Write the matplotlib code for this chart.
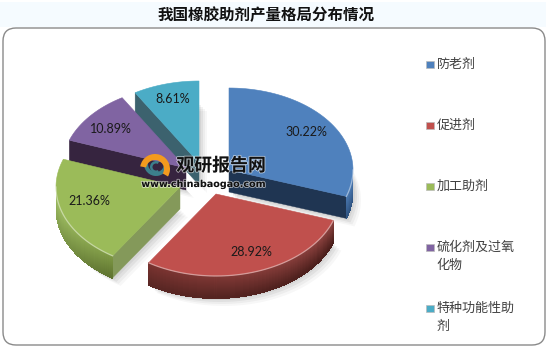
#!/usr/bin/env python3

import numpy as np
import matplotlib
matplotlib.use('Agg')
import matplotlib.pyplot as plt
from matplotlib.patches import FancyBboxPatch, Polygon, Rectangle, Wedge
from matplotlib.collections import PolyCollection
import matplotlib.colors as mcolors
import matplotlib.patheffects as pe

plt.rcParams['font.family'] = ['Noto Sans CJK SC', 'DejaVu Sans']

title = '我国橡胶助剂产量格局分布情况'
categories = ['防老剂', '促进剂', '加工助剂', '硫化剂及过氧\n化物', '特种功能性助\n剂']
shares = [30.22, 28.92, 21.36, 10.89, 8.61]
value_labels = ['30.22%', '28.92%', '21.36%', '10.89%', '8.61%']

top_colors = ['#4F81BD', '#C0504D', '#9BBB59', '#8064A2', '#4BACC6']
face_colors = ['#1F3552', '#4F211F', '#84995A', '#36243F', '#3C626E']
# wall colour at the start / end of the arc, top / bottom of the wall
wall_top = [('#4A78B0', '#4A78B0'), ('#8E4340', '#7A3330'), ('#7F9A45', '#A9C96C'), ('#5A4570', '#5A4570'), ('#357F92', '#357F92')]
wall_bot = [('#2F5482', '#2F5482'), ('#4A1E1B', '#5A2724'), ('#5F7430', '#90AD58'), ('#3A2545', '#3A2545'), ('#2A6070', '#2A6070')]

# pie geometry in pixels
centers = [(229, 170), (216, 194), (180, 187), (186, 168), (199, 163)]
rx, ry, depth = 124, 82, 22
label_pos = [(306, 132), (251, 252), (89, 201), (111, 129), (173, 99)]
legend_y = [64, 125, 186, 247, 308]
draw_order = [4, 3, 2, 0, 1]

angles = np.concatenate([[0], np.cumsum(shares)]) / sum(shares) * 360


def ell(c, a):
    r = np.radians(a)
    return c[0] + rx * np.sin(r), c[1] - ry * np.cos(r)


def mix(c1, c2, t):
    a, b = np.array(mcolors.to_rgb(c1)), np.array(mcolors.to_rgb(c2))
    return tuple(a + (b - a) * t)


def draw_slice(ax, i, z):
    c = centers[i]
    a0, a1 = angles[i], angles[i + 1]

    # soft shadow
    arc = np.linspace(a0, a1, 60)
    xs, ys = ell(c, arc)
    outline = np.column_stack([np.r_[c[0], xs], np.r_[c[1], ys]])
    for off, alpha in [(8, 0.03), (6, 0.04), (4, 0.05), (2, 0.05)]:
        ax.add_patch(Polygon(outline + [off, depth + off], closed=True, fc='black', ec='none', alpha=alpha, zorder=z))

    # radial faces facing the viewer
    for a, edge_ok in [(a0, 180 < a0 < 360), (a1, 0 < a1 < 180)]:
        if edge_ok:
            ex, ey = ell(c, a)
            ax.add_patch(Polygon([(c[0], c[1]), (ex, ey), (ex, ey + depth), (c[0], c[1] + depth)],
                                 closed=True, fc=face_colors[i], ec=face_colors[i], lw=0.3, zorder=z + 0.1))

    # outer wall, front part only
    w0, w1 = max(a0, 90), min(a1, 270)
    if w1 > w0:
        polys, cols = [], []
        steps = np.arange(w0, w1, 1.0)
        for a in steps:
            b = min(a + 1.5, w1)
            t = (a - w0) / max(w1 - w0, 1e-6)
            x0, y0 = ell(c, a)
            x1, y1 = ell(c, b)
            for k in range(depth):
                d0, d1 = k, k + 1.5
                polys.append([(x0, y0 + d0), (x1, y1 + d0), (x1, y1 + d1), (x0, y0 + d1)])
                cols.append(mix(mix(wall_top[i][0], wall_top[i][1], t), mix(wall_bot[i][0], wall_bot[i][1], t), k / (depth - 1)))
        ax.add_collection(PolyCollection(polys, facecolors=cols, edgecolors='none', antialiaseds=False, zorder=z + 0.2))

    # top surface
    ax.add_patch(Polygon(outline, closed=True, fc=top_colors[i], ec=top_colors[i], lw=0.4, zorder=z + 0.3))

    # light rim along the front edge
    if w1 > w0:
        fx, fy = ell(c, np.linspace(w0, w1, 60))
        ax.plot(fx, fy, color='white', alpha=0.45, lw=0.9, zorder=z + 0.4)


fig = plt.figure(figsize=(5.46, 3.53), dpi=100)
ax = fig.add_axes([0, 0, 1, 1])
ax.set_xlim(0, 546)
ax.set_ylim(353, 0)
ax.axis('off')

# title band and frame
ax.add_patch(Rectangle((0, 2), 546, 25, fc='#F5FBFF', ec='none', zorder=0))
ax.text(266, 15, title, ha='center', va='center', fontsize=11.2, fontweight='bold', color='#111111', zorder=5)
ax.add_patch(FancyBboxPatch((15, 40), 518, 293, boxstyle='round,pad=12,rounding_size=13',
                            fc='white', ec='#8A8A8A', lw=1.0, zorder=1))

for n, i in enumerate(draw_order):
    draw_slice(ax, i, 2 + n)

for i in range(len(shares)):
    ax.text(label_pos[i][0], label_pos[i][1], value_labels[i], ha='center', va='center',
            fontsize=9, family='Lato', color='#1A1A1A', zorder=9)

# legend
for i in range(len(categories)):
    ax.add_patch(Rectangle((426, legend_y[i] - 3.5), 7.5, 7, fc=top_colors[i], ec='#BBBBBB', lw=0.5, zorder=8))
    first_line = categories[i].split('\n')[0]
    ax.text(436.5, legend_y[i], first_line, ha='left', va='center', fontsize=9.4, color='#404040', zorder=8)
    if '\n' in categories[i]:
        ax.text(436.5, legend_y[i] + 18, categories[i].split('\n')[1], ha='left', va='center',
                fontsize=9.4, color='#404040', zorder=8)

# watermark
ax.add_patch(Wedge((156, 164), 12, 10, 190, width=4, fc='#3C7F8C', ec='none', zorder=10))
ax.add_patch(Wedge((155, 169), 15, 190, 30, width=6, fc='#F39A1E', ec='none', zorder=10))
ax.add_patch(Wedge((156, 167), 6, 60, 300, width=2.5, fc='#3C7F8C', ec='none', zorder=10))
halo = [pe.withStroke(linewidth=1.2, foreground='white', alpha=0.6)]
ax.text(221, 166, '观研报告网', ha='center', va='center', fontsize=12.9, fontweight='bold',
        color='#111111', zorder=10, path_effects=halo)
ax.text(203.5, 184, 'www.chinabaogao.com', ha='center', va='center', fontsize=6.9, fontweight='bold',
        family='DejaVu Sans', color='#111111', zorder=10, path_effects=halo)

fig.savefig('out.png', dpi=100)
